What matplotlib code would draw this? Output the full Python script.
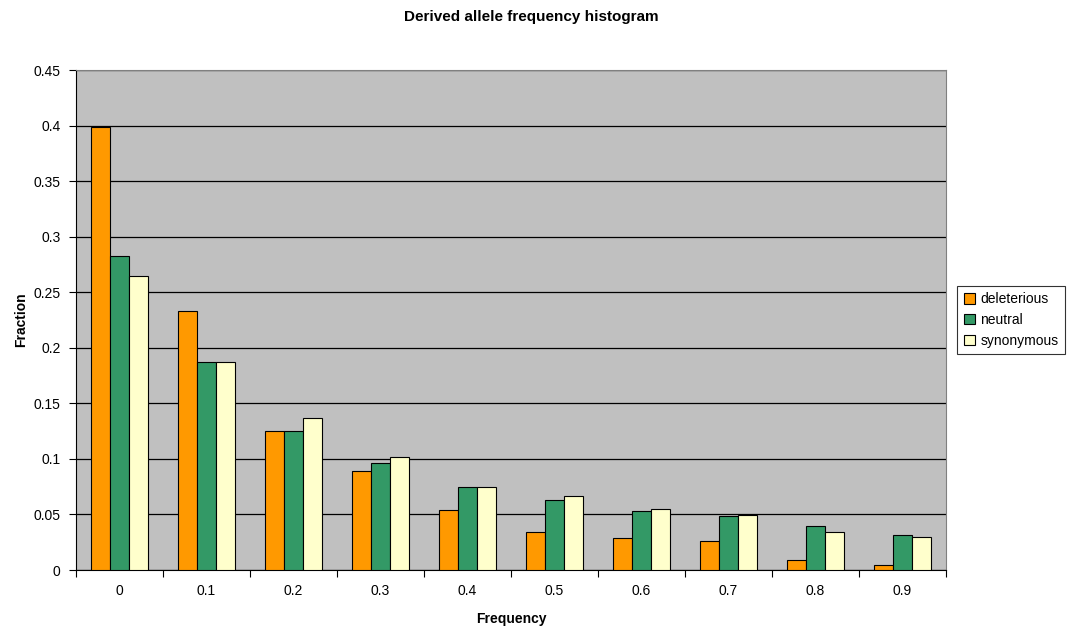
import numpy as np
import matplotlib.pyplot as plt

plt.rcParams['font.family'] = ['Liberation Sans', 'DejaVu Sans']

# Data
freq_labels = ['0', '0.1', '0.2', '0.3', '0.4', '0.5', '0.6', '0.7', '0.8', '0.9']
deleterious = [0.399, 0.2335, 0.125, 0.0888, 0.0543, 0.0342, 0.0285, 0.026, 0.0087, 0.0042]
neutral = [0.283, 0.187, 0.125, 0.096, 0.0747, 0.063, 0.0534, 0.0483, 0.0396, 0.0315]
synonymous = [0.265, 0.187, 0.1365, 0.102, 0.0747, 0.0669, 0.0549, 0.0495, 0.0342, 0.030]

series = [('deleterious', deleterious, '#FF9900'),
          ('neutral', neutral, '#339966'),
          ('synonymous', synonymous, '#FFFFCC')]

fig = plt.figure(figsize=(10.7, 6.31), dpi=100)
ax = fig.add_axes([76/1070, 1 - 570/631, 870/1070, 500/631])
ax.set_facecolor('#C0C0C0')

x = np.arange(len(freq_labels))
w = 0.222
for i, (name, vals, col) in enumerate(series):
    ax.bar(x + (i - 1) * w, vals, width=w, color=col, edgecolor='black',
           linewidth=0.8, label=name, zorder=3)

ax.set_xlim(-0.5, len(freq_labels) - 0.5)
ax.set_ylim(0, 0.45)
ax.set_yticks(np.arange(0, 0.451, 0.05))
ax.set_yticklabels(['0', '0.05', '0.1', '0.15', '0.2', '0.25', '0.3', '0.35', '0.4', '0.45'])
ax.yaxis.grid(True, color='black', linewidth=0.9, zorder=0)
ax.set_axisbelow(True)

# category ticks between groups, labels centred
ax.set_xticks(np.arange(-0.5, len(freq_labels), 1.0))
ax.set_xticklabels([])
ax.set_xticks(x, minor=True)
ax.set_xticklabels(freq_labels, minor=True)
ax.tick_params(axis='x', which='minor', length=0, pad=10)
ax.tick_params(axis='x', which='major', length=5, color='black')
ax.tick_params(axis='y', length=5, pad=6)
ax.tick_params(labelsize=10, labelcolor='black')

for s in ['top', 'right']:
    ax.spines[s].set_color('#808080')
for s in ['left', 'bottom']:
    ax.spines[s].set_color('black')

ax.set_xlabel('Frequency', fontsize=10, fontweight='bold', labelpad=10)
ax.set_ylabel('Fraction', fontsize=10, fontweight='bold', labelpad=4)
fig.text(531/1070, 1 - 17/631, 'Derived allele frequency histogram', ha='center', va='center',
         fontsize=11, fontweight='bold')

leg = ax.legend(loc='center left', bbox_to_anchor=(1.005, 0.5), fontsize=10,
                frameon=True, fancybox=False, edgecolor='black', handlelength=0.8,
                handleheight=0.8, handletextpad=0.4, borderpad=0.45, labelspacing=0.5)
leg.get_frame().set_linewidth(0.8)

fig.savefig('out.png', dpi=100, facecolor='white')
